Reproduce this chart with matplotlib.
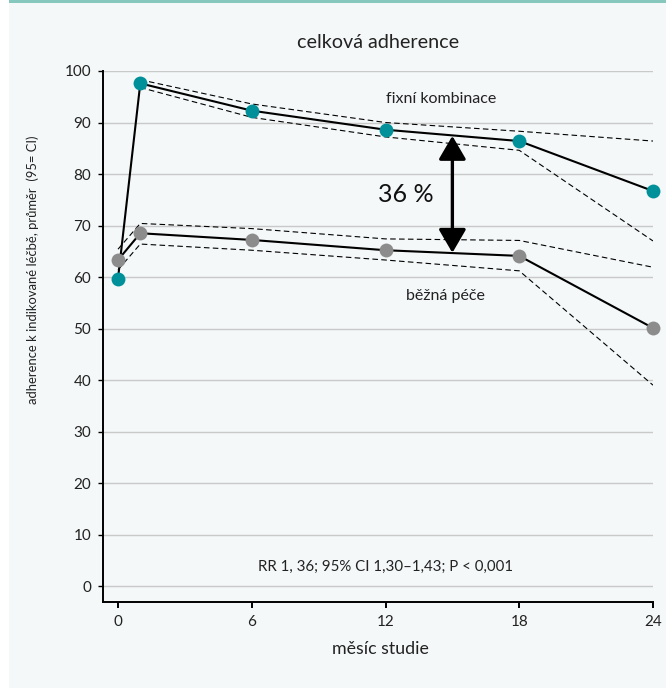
import matplotlib
matplotlib.use("Agg")
import matplotlib.pyplot as plt
from matplotlib.patches import Rectangle

plt.rcParams['font.family'] = ['Lato', 'DejaVu Sans']

# ---- data ----
months = [0, 1, 6, 12, 18, 24]
fixed_mean = [59.7, 97.6, 92.3, 88.6, 86.4, 76.7]
fixed_ci_months = [1, 6, 12, 18, 24]
fixed_upper = [98.3, 93.6, 90.0, 88.3, 86.4]
fixed_lower = [96.8, 91.0, 87.2, 84.6, 67.0]
usual_mean = [63.3, 68.5, 67.2, 65.2, 64.1, 50.1]
usual_upper = [65.4, 70.4, 69.4, 67.4, 67.1, 61.9]
usual_lower = [61.4, 66.4, 65.2, 63.3, 61.2, 39.0]
x_ticks = [0, 6, 12, 18, 24]
y_ticks = [0, 10, 20, 30, 40, 50, 60, 70, 80, 90, 100]
arrow_month = 15
arrow_top = 87.4
arrow_bottom = 64.7

TEAL = '#00909a'
GREY = '#8c8c8c'
BG = '#f4f8f8'

W, H = 666, 688
fig = plt.figure(figsize=(W / 100, H / 100), dpi=100, facecolor='white')
fig.patches.append(Rectangle((9 / W, 0), 1 - 9 / W, 1 - 2 / H, transform=fig.transFigure,
                             facecolor=BG, edgecolor='none', zorder=-10))
fig.patches.append(Rectangle((9 / W, 1 - 2.5 / H), 1 - 9 / W, 2.5 / H, transform=fig.transFigure,
                             facecolor='#86c8bd', edgecolor='none', zorder=-9))

ax = fig.add_axes([103 / W, 86 / H, (653 - 103) / W, (602 - 71) / H])
ax.set_facecolor('none')
ax.set_xlim(-0.673, 24)
ax.set_ylim(-3.1, 100)

for y in y_ticks:
    ax.axhline(y, color='#c9c9c9', lw=1.0, zorder=0)

dash = (0, (5, 3))
ax.plot(fixed_ci_months, fixed_upper, color='black', lw=0.8, linestyle=dash, zorder=2)
ax.plot(fixed_ci_months, fixed_lower, color='black', lw=0.8, linestyle=dash, zorder=2)
ax.plot(months, usual_upper, color='black', lw=0.8, linestyle=dash, zorder=2)
ax.plot(months, usual_lower, color='black', lw=0.8, linestyle=dash, zorder=2)

ax.plot(months, fixed_mean, color='black', lw=1.5, zorder=3)
ax.plot(months, usual_mean, color='black', lw=1.5, zorder=3)
ax.plot(months, fixed_mean, linestyle='none', marker='o', markersize=10,
        markerfacecolor=TEAL, markeredgecolor='none', zorder=5, clip_on=False)
ax.plot(months, usual_mean, linestyle='none', marker='o', markersize=10,
        markerfacecolor=GREY, markeredgecolor='none', zorder=5, clip_on=False)

ax.annotate('', xy=(arrow_month, arrow_top), xytext=(arrow_month, arrow_bottom),
            arrowprops=dict(arrowstyle='<|-|>,head_length=0.72,head_width=0.42',
                            mutation_scale=20, color='black', lw=2.4,
                            shrinkA=0, shrinkB=0), zorder=6)

ax.text(12.9, 76.1, '36 %', fontsize=18, ha='center', va='center', color='#111111')
ax.text(14.5, 94.5, 'fixní kombinace', fontsize=11.5, ha='center', va='center', color='#222222')
ax.text(14.7, 56.3, 'běžná péče', fontsize=11.5, ha='center', va='center', color='#222222')
ax.text(12.0, 3.8, 'RR 1, 36; 95% CI 1,30–1,43; P < 0,001', fontsize=10.8, ha='center',
        va='center', color='#222222')

for s in ['top', 'right']:
    ax.spines[s].set_visible(False)
for s in ['left', 'bottom']:
    ax.spines[s].set_linewidth(1.4)
    ax.spines[s].set_color('black')
ax.spines['left'].set_bounds(-3.1, 100)

ax.set_xticks(x_ticks)
ax.set_yticks(y_ticks)
ax.tick_params(axis='x', direction='out', length=4.5, width=1.4, pad=5, labelsize=11,
               colors='black', labelcolor='#222222')
ax.tick_params(axis='y', direction='out', length=3.6, width=1.0, pad=5, labelsize=11,
               colors='black', labelcolor='#222222')

fig.text(380.5 / W, 1 - 649 / H, 'měsíc studie', fontsize=12.8, ha='center', va='center',
         color='#222222')
fig.text(378 / W, 1 - 42 / H, 'celková adherence', fontsize=14.2, ha='center', va='center',
         color='#222222')
fig.text(33 / W, 1 - 270 / H, 'adherence k indikované léčbě, průměr  (95= CI)', fontsize=9.4,
         family=['Liberation Sans Narrow', 'Lato', 'DejaVu Sans'],
         rotation=90, ha='center', va='center', color='#222222')

fig.savefig('out.png', dpi=100, facecolor=fig.get_facecolor())
